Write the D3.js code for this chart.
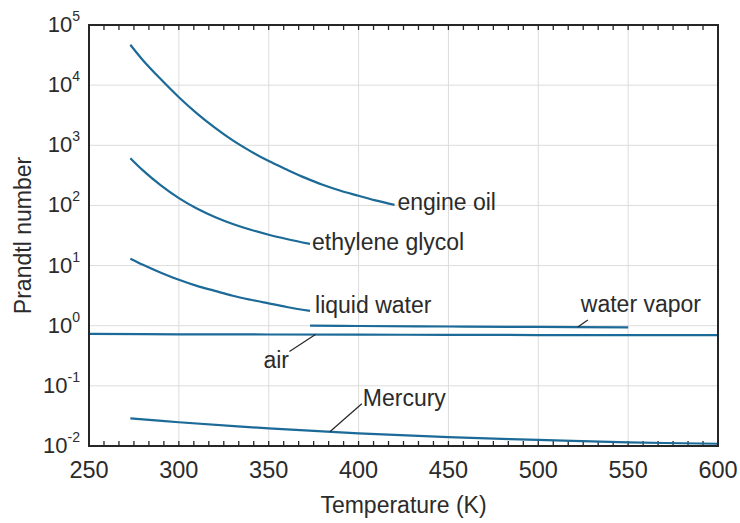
<!DOCTYPE html>
<html>
  <head>
    <meta charset="UTF-8">
    <title>Prandtl number vs temperature</title>
    <style>
      body { margin: 0; background: #fff; }
      text { font-family: "Liberation Sans", Arial, Helvetica, sans-serif; fill: #2b2b2b; }
      .grid line { stroke: #dcdcdc; stroke-width: 1; }
      .frame { fill: none; stroke: #262626; stroke-width: 2; }
      .tick-minor { stroke: #262626; stroke-width: 1.3; }
      .curve { fill: none; stroke: #1b6a97; stroke-width: 2.2; }
      .leader { stroke: #262626; stroke-width: 1.2; }
    </style>
  </head>
  <body>
<svg width="740" height="523"></svg>
<script src="https://d3js.org/d3.v7.min.js"></script>
<script>

// data (temperature in K, Prandtl number)
var engineOilT = [273, 280, 290, 300, 310, 320, 330, 340, 350, 360, 370, 380, 390, 400, 410, 420];
var engineOil  = [47000, 26000, 12500, 6300, 3400, 1965, 1205, 793, 546, 395, 290, 220, 175, 145, 120, 102];

var glycolT = [273, 280, 290, 300, 310, 320, 330, 340, 350, 360, 373];
var glycol  = [610, 383, 215, 132, 88.7, 64.3, 49.2, 39.4, 32.6, 27.7, 22.9];

var waterT = [273, 280, 290, 300, 310, 320, 330, 340, 350, 360, 373];
var water  = [13.0, 10.3, 7.6, 5.8, 4.6, 3.8, 3.15, 2.7, 2.35, 2.05, 1.76];

var vaporT = [373, 400, 450, 500, 550];
var vapor  = [1.0, 0.99, 0.97, 0.955, 0.94];

var airT = [250, 300, 350, 400, 450, 500, 550, 600];
var air  = [0.73, 0.72, 0.715, 0.71, 0.705, 0.70, 0.70, 0.70];

var mercuryT = [273, 300, 350, 400, 450, 500, 550, 600];
var mercury  = [0.0288, 0.0248, 0.0196, 0.0162, 0.0140, 0.0126, 0.0115, 0.0109];

var xTicks = [250, 300, 350, 400, 450, 500, 550, 600];
var yExponents = [-2, -1, 0, 1, 2, 3, 4, 5];

var series = [
  {name: "engine oil", T: engineOilT, v: engineOil},
  {name: "ethylene glycol", T: glycolT, v: glycol},
  {name: "liquid water", T: waterT, v: water},
  {name: "water vapor", T: vaporT, v: vapor},
  {name: "air", T: airT, v: air},
  {name: "Mercury", T: mercuryT, v: mercury}
];

var svg = d3.select("svg"),
    margin = {top: 25, right: 22, bottom: 77, left: 89},
    width = +svg.attr("width") - margin.left - margin.right,
    height = +svg.attr("height") - margin.top - margin.bottom;

var x = d3.scaleLinear().domain([250, 600]).range([0, width]),
    y = d3.scaleLog().domain([1e-2, 1e5]).range([height, 0]);

var g = svg.append("g")
    .attr("transform", "translate(" + margin.left + "," + margin.top + ")");

// grid
var grid = g.append("g").attr("class", "grid");
grid.selectAll(".gx")
  .data(xTicks.slice(1, -1))
  .enter().append("line")
    .attr("x1", function(d) { return x(d); })
    .attr("x2", function(d) { return x(d); })
    .attr("y1", 0).attr("y2", height);
grid.selectAll(".gy")
  .data(yExponents.slice(1, -1))
  .enter().append("line")
    .attr("x1", 0).attr("x2", width)
    .attr("y1", function(d) { return y(Math.pow(10, d)); })
    .attr("y2", function(d) { return y(Math.pow(10, d)); });

// minor ticks, inside, top and bottom (6 per 50 K)
var minor = d3.range(0, 43).map(function(i) { return 250 + i * 50 / 6; });
g.selectAll(".tb")
  .data(minor)
  .enter().append("line")
    .attr("class", "tick-minor")
    .attr("x1", function(d) { return x(d); })
    .attr("x2", function(d) { return x(d); })
    .attr("y1", height).attr("y2", height - 5);
g.selectAll(".tt")
  .data(minor)
  .enter().append("line")
    .attr("class", "tick-minor")
    .attr("x1", function(d) { return x(d); })
    .attr("x2", function(d) { return x(d); })
    .attr("y1", 0).attr("y2", 5);

// curves
var line = d3.line()
    .x(function(d) { return x(d[0]); })
    .y(function(d) { return y(d[1]); })
    .curve(d3.curveCatmullRom.alpha(0.5));

g.selectAll(".curve")
  .data(series)
  .enter().append("path")
    .attr("class", "curve")
    .attr("d", function(s) { return line(d3.zip(s.T, s.v)); });

// frame
g.append("rect")
    .attr("class", "frame")
    .attr("width", width)
    .attr("height", height);

// x tick labels
g.selectAll(".xl")
  .data(xTicks)
  .enter().append("text")
    .attr("x", function(d) { return x(d); })
    .attr("y", height + 32)
    .attr("text-anchor", "middle")
    .style("font-size", "23.5px")
    .text(function(d) { return d; });

// y tick labels 10^n
var yl = g.selectAll(".yl")
  .data(yExponents)
  .enter().append("text")
    .attr("x", -9)
    .attr("y", function(d) { return y(Math.pow(10, d)) + 7; })
    .attr("text-anchor", "end")
    .style("font-size", "22px");
yl.append("tspan").text("10");
yl.append("tspan")
    .attr("dy", -11)
    .style("font-size", "14px")
    .text(function(d) { return d < 0 ? "-" + (-d) : d; });

// axis titles
g.append("text")
    .attr("x", width / 2)
    .attr("y", height + 67)
    .attr("text-anchor", "middle")
    .style("font-size", "23px")
    .text("Temperature (K)");

g.append("text")
    .attr("transform", "translate(" + (31 - margin.left) + "," + (height / 2) + ") rotate(-90)")
    .attr("text-anchor", "middle")
    .style("font-size", "23px")
    .text("Prandtl number");

// curve labels: anchor on a curve (T), optional leader to label
var labels = [
  {name: "engine oil", T: 420, lx: 3, ly: 5, leader: null},
  {name: "ethylene glycol", T: 373, lx: 2, ly: 6, leader: null},
  {name: "liquid water", T: 373, lx: 5, ly: 2, leader: null},
  {name: "water vapor", T: 522, lx: 3, ly: -15, leader: [10, -7]},
  {name: "air", T: 376, lx: -52, ly: 33, leader: [-26, 17]},
  {name: "Mercury", T: 384, lx: 33, ly: -26, leader: [32, -28]}
];

function valueAt(s, T) {
  var i = d3.bisectLeft(s.T, T);
  if (i <= 0) return s.v[0];
  if (i >= s.T.length) return s.v[s.v.length - 1];
  var t = (T - s.T[i - 1]) / (s.T[i] - s.T[i - 1]);
  return Math.exp(Math.log(s.v[i - 1]) * (1 - t) + Math.log(s.v[i]) * t);
}

labels.forEach(function(l) {
  var s = series.filter(function(d) { return d.name === l.name; })[0];
  var px = x(l.T), py = y(valueAt(s, l.T));
  if (l.leader) {
    g.append("line")
        .attr("class", "leader")
        .attr("x1", px).attr("y1", py)
        .attr("x2", px + l.leader[0]).attr("y2", py + l.leader[1]);
  }
  g.append("text")
      .attr("x", px + l.lx)
      .attr("y", py + l.ly)
      .style("font-size", "23px")
      .text(l.name);
});

</script>
  </body>
</html>
